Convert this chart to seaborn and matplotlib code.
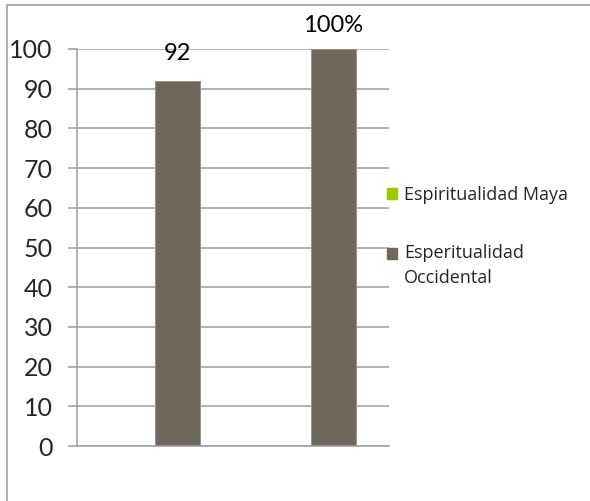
import pandas as pd
import numpy as np
import matplotlib.pyplot as plt
import matplotlib.patches as mpatches
import seaborn as sns

# Data
categories = ['1', '2']
series_names = ['Espiritualidad Maya', 'Esperitualidad\nOccidental']
maya_values = [0, 0]
occidental_values = [92, 100]
bar_labels = ['92', '100%']
series_colors = ['#99CC00', '#736858']

sns.set_style('white')
plt.rcParams['font.family'] = ['Lato', 'DejaVu Sans']

df = pd.DataFrame({
    'categoria': categories * 2,
    'serie': [series_names[0]] * len(categories) + [series_names[1]] * len(categories),
    'valor': maya_values + occidental_values,
})

fig = plt.figure(figsize=(5.9, 5.01), dpi=100)
ax = fig.add_axes([77 / 590, 1 - 446 / 501, (389 - 77) / 590, (446 - 49) / 501])

sns.barplot(data=df, x='categoria', y='valor', hue='serie',
            palette=series_colors, width=0.572, dodge=True,
            edgecolor='#8f8f8f', linewidth=0.6, ax=ax, legend=False)

# value labels above the Occidental bars
occ_bars = ax.containers[1]
for bar, lab, off in zip(occ_bars, bar_labels, [12, 9]):
    ax.annotate(lab, (bar.get_x() + bar.get_width() / 2, bar.get_height()),
                xytext=(0, off), textcoords='offset points',
                ha='center', va='bottom', fontsize=17, color='black')

ax.set_ylim(0, 100)
ax.set_xlim(-0.5, 1.5)
ax.set_yticks(np.arange(0, 101, 10))
ax.set_xticks([])
ax.set_xlabel('')
ax.set_ylabel('')
ax.yaxis.grid(True, color='#9c9c9c', linewidth=1.1)
ax.set_axisbelow(True)
ax.tick_params(axis='y', length=6.5, width=1.1, color='#9c9c9c',
               labelsize=18, pad=11, left=True)
for s in ['top', 'right']:
    ax.spines[s].set_visible(False)
for s in ['left', 'bottom']:
    ax.spines[s].set_color('#9c9c9c')
    ax.spines[s].set_linewidth(1.1)

handles = [mpatches.Patch(color=c) for c in series_colors]
leg = fig.legend(handles, series_names, loc='upper left',
                 bbox_to_anchor=(387 / 590, 1 - 186 / 501), frameon=False,
                 prop={'family': ['Open Sans', 'DejaVu Sans'], 'size': 13},
                 handlelength=0.55, handleheight=0.55,
                 handletextpad=0.4, labelspacing=2.2, borderpad=0,
                 borderaxespad=0)
for t in leg.get_texts():
    t.set_linespacing(1.5)
# keep the square next to the first line of the two-line label
h2 = leg.legend_handles[1]
h2.set_y(h2.get_y() + 9)

# outer chart border
fig.add_artist(mpatches.Rectangle((6.5 / 590, -0.1), 1.2, 1 - 4.5 / 501 + 0.1,
                                  transform=fig.transFigure, fill=False,
                                  edgecolor='#a0a0a0', linewidth=1.2))

fig.savefig('out.png', dpi=100)
